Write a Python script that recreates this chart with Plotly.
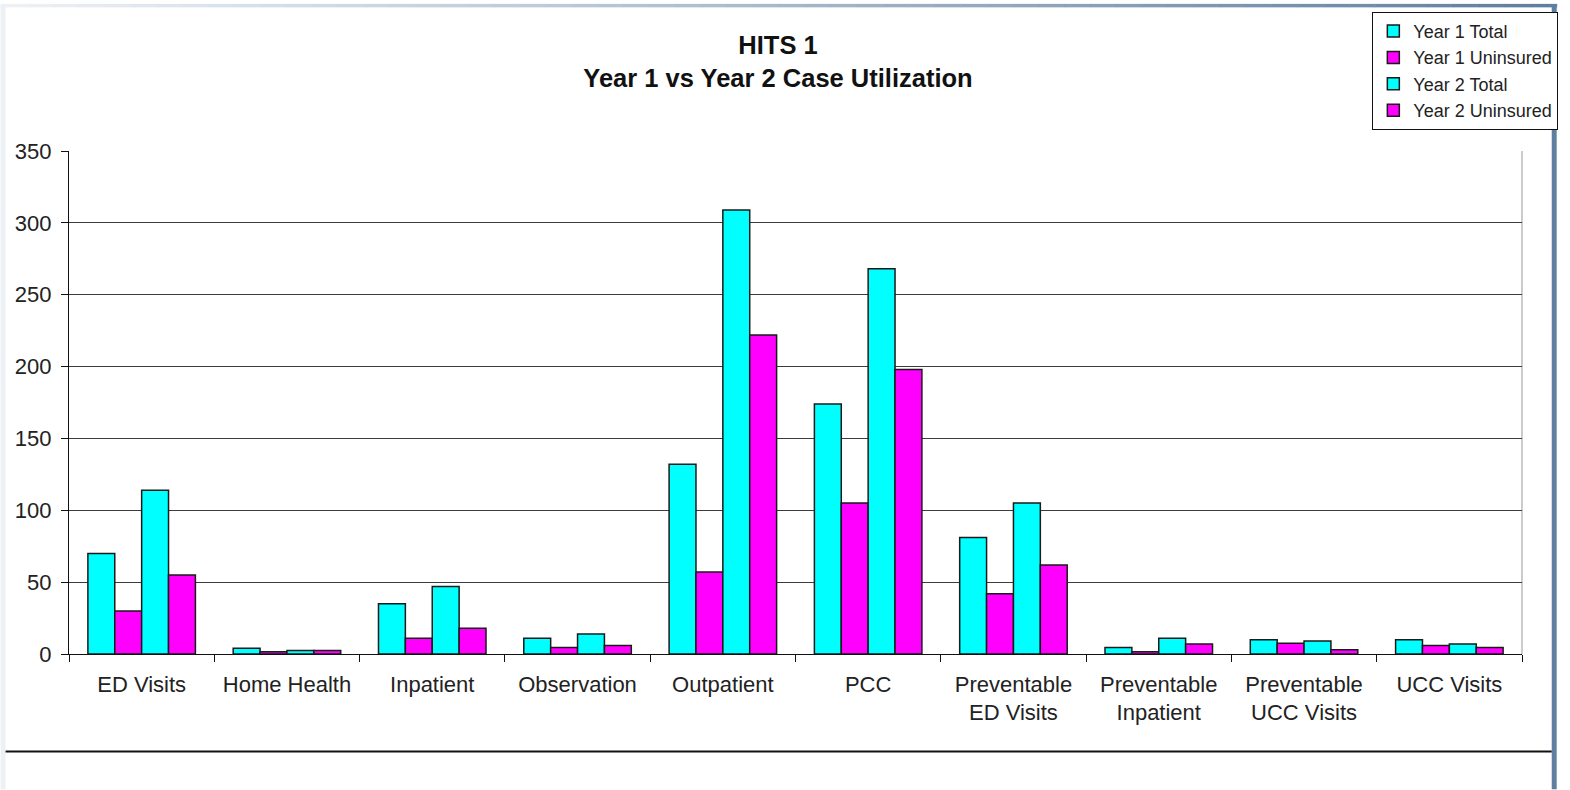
import plotly.graph_objects as go

categories = ["ED Visits", "Home Health", "Inpatient", "Observation", "Outpatient", "PCC",
              "Preventable<br>ED Visits", "Preventable<br>Inpatient",
              "Preventable<br>UCC Visits", "UCC Visits"]
year1_total = [70, 4, 35, 11, 132, 174, 81, 4.5, 10, 10]
year1_uninsured = [30, 1.5, 11, 4.5, 57, 105, 42, 1.5, 7.5, 6]
year2_total = [114, 2.5, 47, 14, 309, 268, 105, 11, 9, 7]
year2_uninsured = [55, 2.5, 18, 6, 222, 198, 62, 7, 3, 4.5]
series_names = ["Year 1 Total", "Year 1 Uninsured", "Year 2 Total", "Year 2 Uninsured"]

CYAN = "#00FFFF"
MAGENTA = "#FF00FF"
colors = [CYAN, MAGENTA, CYAN, MAGENTA]
FONT = "Liberation Sans, Arial, sans-serif"

W_FIG, H_FIG = 1570, 790
L, R, T, B = 69, 1535, 148, 654
PW, PH = R - L, B - T


def px2x(px):
    return (px - L) / PW


def py2y(py):
    return (B - py) / PH


fig = go.Figure()
for name, vals, col in zip(series_names,
                           [year1_total, year1_uninsured, year2_total, year2_uninsured],
                           colors):
    fig.add_trace(go.Bar(
        x=categories, y=vals, name=name,
        marker=dict(color=col, line=dict(color="#1a1a1a", width=1.5)),
    ))

shapes = []
# left light strip
shapes.append(dict(type="rect", xref="paper", yref="paper",
                   x0=px2x(0), x1=px2x(5), y0=py2y(790), y1=py2y(0),
                   fillcolor="#edf1f5", line=dict(width=0), layer="below"))
# top gradient strip
c0 = (0xED, 0xF1, 0xF5)
c1 = (0x5F, 0x7F, 0xA0)
n = 60
for i in range(n):
    t = i / (n - 1)
    c = tuple(int(round(a + (b - a) * t)) for a, b in zip(c0, c1))
    x0 = W_FIG * i / n
    x1 = W_FIG * (i + 1) / n + 0.5
    shapes.append(dict(type="rect", xref="paper", yref="paper",
                       x0=px2x(x0), x1=px2x(x1), y0=py2y(3.5), y1=py2y(0),
                       fillcolor="rgb(%d,%d,%d)" % c, line=dict(width=0), layer="below"))
# right steel band
shapes.append(dict(type="rect", xref="paper", yref="paper",
                   x0=px2x(1565), x1=px2x(1570), y0=py2y(790), y1=py2y(0),
                   fillcolor="#5f7fa0", line=dict(width=0), layer="below"))
# bottom separator line
shapes.append(dict(type="line", xref="paper", yref="paper",
                   x0=px2x(5), x1=px2x(1565), y0=py2y(752), y1=py2y(752),
                   line=dict(color="#111111", width=2)))
# right plot border (light grey)
shapes.append(dict(type="line", xref="paper", yref="paper",
                   x0=1, x1=1, y0=0, y1=1,
                   line=dict(color="#b0b0b0", width=1.3), layer="below"))

fig.update_layout(
    width=W_FIG, height=H_FIG,
    margin=dict(l=L, r=W_FIG - R, t=T, b=H_FIG - B, pad=0),
    paper_bgcolor="white", plot_bgcolor="white",
    font=dict(family=FONT, color="#222222"),
    barmode="group", bargap=0.26, bargroupgap=0,
    title=dict(
        text="<b>HITS 1</b><br><b>Year 1 vs Year 2 Case Utilization</b>",
        x=778 / W_FIG, xanchor="center",
        y=1 - 54 / H_FIG, yanchor="middle",
        font=dict(family=FONT, size=25.5, color="#111111"),
    ),
    legend=dict(
        x=px2x(1384), y=py2y(8), xanchor="left", yanchor="top",
        bordercolor="#111111", borderwidth=1, bgcolor="white",
        font=dict(family=FONT, size=18, color="#222222"),
        itemwidth=30, tracegroupgap=0,
    ),
    shapes=shapes,
    xaxis=dict(
        showline=True, linecolor="#111111", linewidth=1.3,
        ticks="outside", ticklen=7, tickcolor="#111111", tickwidth=1.3,
        tickson="boundaries", showgrid=False, zeroline=False,
        tickfont=dict(family=FONT, size=22, color="#222222"),
        ticklabelstandoff=10, fixedrange=True,
    ),
    yaxis=dict(
        range=[0, 350], dtick=50, tick0=0,
        showline=True, linecolor="#111111", linewidth=1.3,
        ticks="outside", ticklen=7, tickcolor="#111111", tickwidth=1.3,
        showgrid=True, gridcolor="#3c3c3c", gridwidth=1.3, zeroline=False,
        tickfont=dict(family=FONT, size=22, color="#222222"),
        ticklabelstandoff=5, fixedrange=True,
    ),
)

fig.write_html(
    "out.html",
    config={"displayModeBar": False},
    post_script=(
        "document.documentElement.style.margin='0px';"
        "document.documentElement.style.overflow='hidden';"
        "document.body.style.margin='0px';"
        "document.body.style.overflow='hidden';"
    ),
)
